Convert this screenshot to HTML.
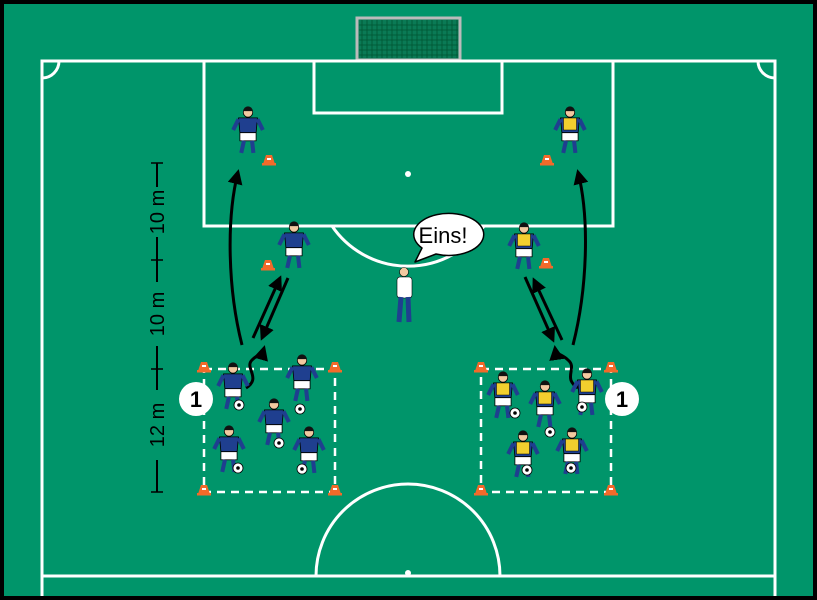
<!DOCTYPE html>
<html><head><meta charset="utf-8"><style>html,body{margin:0;padding:0;background:#000;width:817px;height:600px;overflow:hidden}svg{display:block}</style></head>
<body>
<svg width="817" height="600" viewBox="0 0 817 600" xmlns="http://www.w3.org/2000/svg">
<defs>
<g id="pb0">
<circle cx="0" cy="-13" r="3.5" fill="#f2c9a0" stroke="#000" stroke-width="0.6"/>
<path d="M-3.5,-14 a3.5,3.5 0 0 1 7,0z" fill="#111"/>
<path d="M-7,-9 L7,-9 L6,2 L-6,2 Z" fill="#1f3f8f" stroke="#000" stroke-width="0.6"/>
<path d="M-7,-8 L-11,0 M7,-8 L11,0" stroke="#1f3f8f" stroke-width="3"/>
<rect x="-6" y="2" width="12" height="6" fill="#fff" stroke="#000" stroke-width="0.6"/>
<path d="M-3,8 L-5,17 M3,8 L4,17" stroke="#1f3f8f" stroke-width="3"/>
</g>
<g id="pb"><use href="#pb0" transform="scale(1.35)"/></g>
<g id="py">
<use href="#pb"/>
<path d="M-6.5,-12 L6.5,-12 L6.5,0 L-6.5,0 Z" fill="#f2cf2e" stroke="#000" stroke-width="0.5"/>
</g>
<g id="cone">
<path d="M-3,-7 L3,-7 L6,2 L-6,2 Z" fill="#f26a2a"/>
<path d="M-2,-3 L2,-3" stroke="#fff" stroke-width="2"/>
<rect x="-7" y="1" width="14" height="2.5" fill="#f26a2a"/>
</g>
<g id="ball"><circle r="5" fill="#fff" stroke="#000" stroke-width="0.8"/><circle r="1.8" fill="#000"/></g>
<marker id="ah" viewBox="0 0 10 10" refX="8" refY="5" markerWidth="5" markerHeight="5" orient="auto"><path d="M0,0 L10,5 L0,10z" fill="#000"/></marker>
</defs>
<rect x="0" y="0" width="817" height="600" fill="#000"/>
<rect x="4" y="4" width="809" height="592" fill="#00956a"/>
<!-- goal -->
<rect x="357" y="18" width="103" height="42" fill="#0a7a55" stroke="#bbb" stroke-width="3"/>
<g stroke="#053" stroke-width="0.8">
<path d="M362,20V58M367,20V58M372,20V58M377,20V58M382,20V58M387,20V58M392,20V58M397,20V58M402,20V58M407,20V58M412,20V58M417,20V58M422,20V58M427,20V58M432,20V58M437,20V58M442,20V58M447,20V58M452,20V58M457,20V58"/>
<path d="M359,25H458M359,30H458M359,35H458M359,40H458M359,45H458M359,50H458M359,55H458"/>
</g>
<g fill="none" stroke="#fff" stroke-width="3">
<path d="M42,596 L42,61 L775,61 L775,596"/>
<path d="M42,576 L775,576"/>
<rect x="204" y="61" width="409" height="165"/>
<rect x="314" y="61" width="188" height="52"/>
<path d="M332,226 A92,92 0 0 0 484,226"/>
<path d="M316,576 A92,92 0 0 1 500,576"/>
<path d="M42,78 A17,17 0 0 0 59,61"/>
<path d="M775,78 A17,17 0 0 1 758,61"/>
</g>
<circle cx="408" cy="174" r="3" fill="#fff"/>
<circle cx="408" cy="573" r="3" fill="#fff"/>
<!-- measurement -->
<g stroke="#000" stroke-width="2">
<path d="M157,163V187M157,237V282M157,346V390M157,460V492"/>
<path d="M151,163H163M151,260H163M151,369H163M151,492H163" stroke-width="1.5"/>
</g>
<g font-family="Liberation Sans, sans-serif" font-size="20" fill="#000" text-anchor="middle">
<text transform="translate(164,212) rotate(-90)">10 m</text>
<text transform="translate(164,314) rotate(-90)">10 m</text>
<text transform="translate(164,425) rotate(-90)">12 m</text>
</g>
<!-- boxes -->
<g fill="none" stroke="#fff" stroke-width="2.5" stroke-dasharray="8,6">
<rect x="204" y="369" width="131" height="123"/>
<rect x="481" y="369" width="130" height="123"/>
</g>
<g>
<use href="#cone" x="204" y="369"/><use href="#cone" x="335" y="369"/><use href="#cone" x="204" y="492"/><use href="#cone" x="335" y="492"/>
<use href="#cone" x="481" y="369"/><use href="#cone" x="611" y="369"/><use href="#cone" x="481" y="492"/><use href="#cone" x="611" y="492"/>
<use href="#cone" x="269" y="162"/><use href="#cone" x="547" y="162"/><use href="#cone" x="268" y="267"/><use href="#cone" x="546" y="265"/>
</g>
<!-- number circles -->
<circle cx="196" cy="399" r="17" fill="#fff"/>
<circle cx="622" cy="399" r="17" fill="#fff"/>
<g font-family="Liberation Sans, sans-serif" font-size="22" font-weight="bold" text-anchor="middle" fill="#000">
<text x="196" y="407">1</text><text x="622" y="407">1</text>
</g>
<!-- arrows -->
<g fill="none" stroke="#000" stroke-width="3" marker-end="url(#ah)">
<path d="M242,345 C228,290 226,220 238,172"/>
<path d="M253,338 L280,278"/>
<path d="M288,278 L262,338"/>
<path d="M246,388 C262,378 244,368 252,360 C258,354 262,355 264,348"/>
<path d="M573,345 C587,290 590,220 578,172"/>
<path d="M562,340 L534,280"/>
<path d="M525,277 L553,340"/>
<path d="M578,388 C562,378 578,368 568,360 C562,354 556,355 555,348"/>
</g>
<!-- players -->
<use href="#pb" x="248" y="130"/>
<use href="#pb" x="294" y="245"/>
<use href="#pb" x="233" y="386"/>
<use href="#pb" x="302" y="378"/>
<use href="#pb" x="274" y="422"/>
<use href="#pb" x="229" y="449"/>
<use href="#pb" x="309" y="450"/>
<use href="#py" x="570" y="130"/>
<use href="#py" x="524" y="246"/>
<use href="#py" x="503" y="395"/>
<use href="#py" x="545" y="404"/>
<use href="#py" x="587" y="392"/>
<use href="#py" x="523" y="454"/>
<use href="#py" x="572" y="451"/>
<use href="#ball" x="239" y="405"/><use href="#ball" x="300" y="409"/><use href="#ball" x="279" y="443"/><use href="#ball" x="238" y="468"/><use href="#ball" x="302" y="469"/>
<use href="#ball" x="515" y="413"/><use href="#ball" x="550" y="432"/><use href="#ball" x="582" y="407"/><use href="#ball" x="527" y="470"/><use href="#ball" x="571" y="468"/>
<!-- coach -->
<circle cx="404" cy="272" r="4.5" fill="#f2c9a0" stroke="#000" stroke-width="0.6"/>
<rect x="397" y="277" width="15" height="21" rx="3" fill="#fff" stroke="#000" stroke-width="0.6"/>
<path d="M401,297 L399,322 M408,297 L409,322" stroke="#1f3f8f" stroke-width="5"/>
<!-- speech bubble -->
<path d="M415,262 L422,248 A35,21 0 1 1 436,254 Z" fill="#fff" stroke="#000" stroke-width="1.5" stroke-linejoin="round"/>
<text x="443" y="243" font-family="Liberation Sans, sans-serif" font-size="22" text-anchor="middle" fill="#000">Eins!</text>
</svg>
</body></html>
